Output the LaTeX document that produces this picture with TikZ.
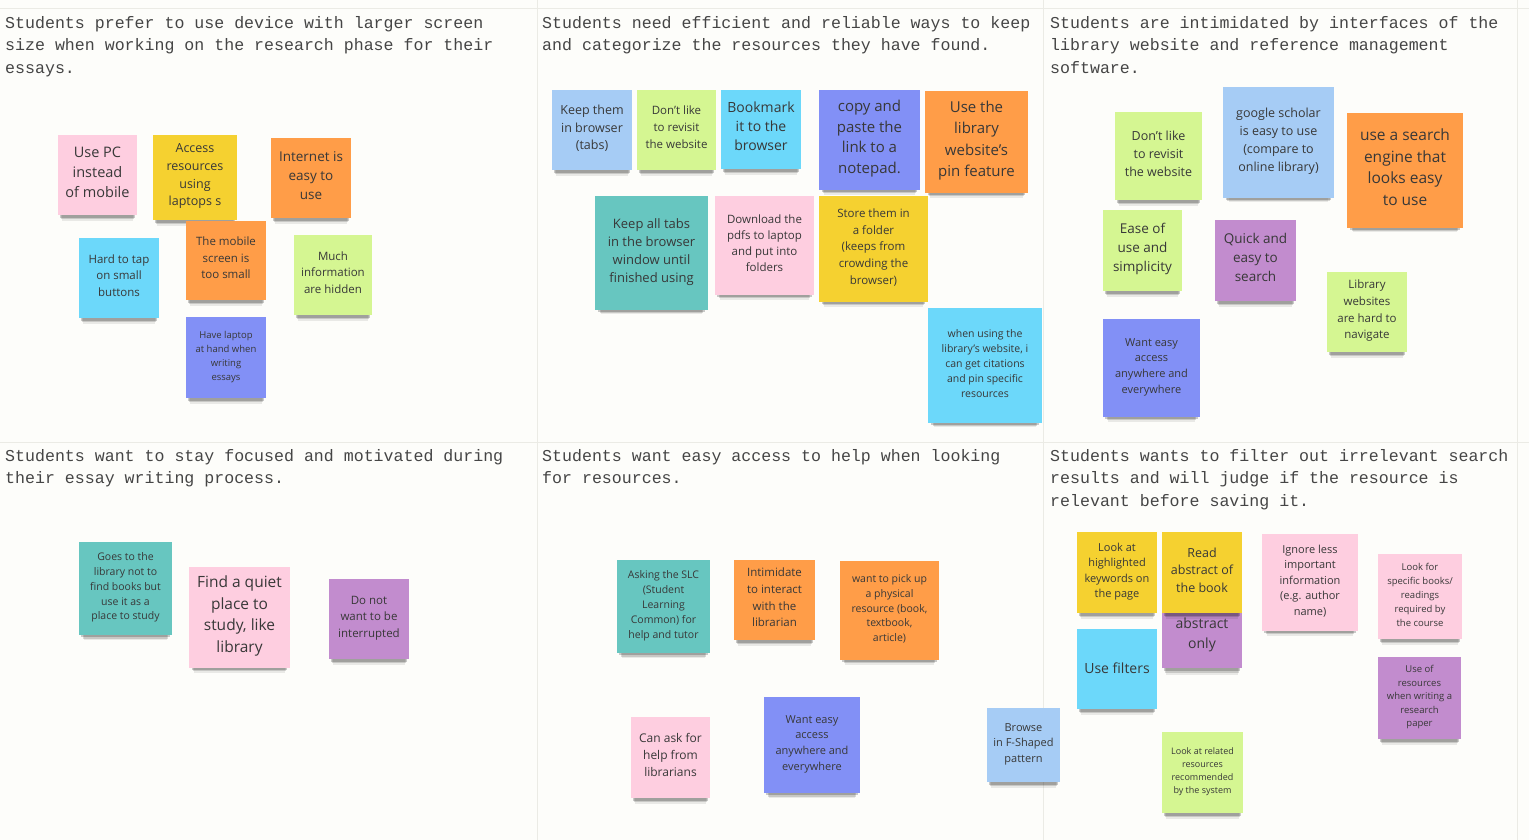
\documentclass[tikz,border=0pt]{standalone}
\usepackage{fontspec}
\setmainfont{Open Sans}
\newfontfamily\headfont{Liberation Mono}
\usetikzlibrary{positioning, shadows}

\definecolor{board}{HTML}{FDFDFA}
\definecolor{gridline}{HTML}{EBEBE5}
\definecolor{headtext}{HTML}{454545}
\definecolor{notetext}{HTML}{383838}
\definecolor{stickypink}{HTML}{FECEE0}
\definecolor{stickyyellow}{HTML}{F5D130}
\definecolor{stickyorange}{HTML}{FF9D48}
\definecolor{stickycyan}{HTML}{6CD8FA}
\definecolor{stickyblue}{HTML}{A6CCF5}
\definecolor{stickygreen}{HTML}{D5F692}
\definecolor{stickyviolet}{HTML}{8290F6}
\definecolor{stickyteal}{HTML}{67C6C0}
\definecolor{stickypurple}{HTML}{C28CCE}

\tikzset{
  note/.style={rectangle, fill=#1, minimum width=80pt, minimum height=80pt,
    inner sep=1pt, align=center, text=notetext, execute at end node=\strut,
    drop shadow={shadow xshift=0pt, shadow yshift=-11pt, shadow scale=0.9, opacity=0.08, fill=black},
    drop shadow={shadow xshift=0pt, shadow yshift=-8pt, shadow scale=0.92, opacity=0.14, fill=black},
    drop shadow={shadow xshift=0pt, shadow yshift=-5pt, shadow scale=0.95, opacity=0.2, fill=black}},
  wh/.style 2 args={minimum width=#1pt, minimum height=#2pt},
  fs/.style 2 args={font=\fontsize{#1}{#2}\selectfont},
  heading/.style={anchor=north west, inner sep=0pt, align=left, text=headtext,
    font=\headfont\fontsize{16.6}{22.5}\selectfont},
}

\begin{document}
\begin{tikzpicture}[x=1pt, y=-1pt]

    % board and grid
    \fill[board] (0,0) rectangle (1529,840);
    \useasboundingbox (0,0) rectangle (1529,840);
    \draw[gridline] (0,8) -- (1529,8);
    \draw[gridline] (0,442) -- (1529,442);
    \draw[gridline] (537,0) -- (537,840);
    \draw[gridline] (1043,0) -- (1043,840);
    \draw[gridline] (1517,0) -- (1517,840);

    % Panel 1: larger screens
    \node (head1) [heading] at (5,16) {Students prefer to use device with larger screen\\size when working on the research phase for their\\essays.};
    \node (usepc) [note=stickypink, wh={79}{80}, fs={14.5}{20}] at (97.5,175) {Use PC\\instead\\of mobile};
    \node (access) [note=stickyyellow, wh={84}{85}, fs={12.5}{17.7}] at (195,177.5) {Access\\resources\\using\\laptops s};
    \node (internet) [note=stickyorange, fs={13.5}{19}] at (311,178) {Internet is\\easy to\\use};
    \node (hardtap) [note=stickycyan, fs={11.5}{16.5}] at (119,278) {Hard to tap\\on small\\buttons};
    \node (mobile) [note=stickyorange, wh={80}{79}, fs={11.5}{16.5}] at (226,260.5) {The mobile\\screen is\\too small};
    \node (hidden) [note=stickygreen, wh={78}{80}, fs={11.5}{16.5}] at (333,275) {Much\\information\\are hidden};
    \node (laptop) [note=stickyviolet, wh={80}{81}, fs={9.5}{14}] at (226,357.5) {Have laptop\\at hand when\\writing\\essays};

    % Panel 2: keep and categorize
    \node (head2) [heading] at (542,16) {Students need efficient and reliable ways to keep\\and categorize the resources they have found.};
    \node (tabs) [note=stickyblue, fs={12.5}{17.5}] at (592,130) {Keep them\\in browser\\(tabs)};
    \node (revisit) [note=stickygreen, wh={79}{80}, fs={11.5}{17}] at (676.5,130) {Don't like\\to revisit\\the website};
    \node (bookmark) [note=stickycyan, wh={80}{79}, fs={14}{19}] at (761,129.5) {Bookmark\\it to the\\browser};
    \node (copy) [note=stickyviolet, wh={101}{100}, fs={15}{20.5}] at (869.5,140) {copy and\\paste the\\link to a\\notepad.};
    \node (pin) [note=stickyorange, wh={103}{102}, fs={15}{21.5}] at (976.5,142) {Use the\\library\\website's\\pin feature};
    \node (alltabs) [note=stickyteal, wh={113}{114}, fs={13}{18}] at (651.5,253) {Keep all tabs\\in the browser\\window until\\finished using};
    \node (download) [note=stickypink, wh={99}{99}, fs={11.5}{16}] at (764.5,245.5) {Download the\\pdfs to\ laptop\\and put into\\folders};
    \node (folder) [note=stickyyellow, wh={109}{106}, fs={11.5}{16.7}] at (873.5,249) {Store them in\\a folder\\(keeps from\\crowding the\\browser)};
    \node (citations) [note=stickycyan, wh={114}{115}, fs={10.5}{15}] at (985,365.5) {when using the\\library’s website, i\\can get citations\\and pin specific\\resources};

    % Panel 3: intimidating interfaces
    \node (head3) [heading] at (1050,16) {Students are intimidated by interfaces of the\\library website and reference management\\software.};
    \node (revisit2) [note=stickygreen, wh={87}{88}, fs={12.5}{18}] at (1158.5,156) {Don't like\\to revisit\\the website};
    \node (scholar) [note=stickyblue, wh={111}{111}, fs={12.5}{18}] at (1278.5,142.5) {google scholar\\is easy to use\\(compare to\\online library)};
    \node (engine) [note=stickyorange, wh={116}{115}, fs={15.5}{21.7}] at (1405,170.5) {use a search\\engine that\\looks easy\\to use};
    \node (ease) [note=stickygreen, wh={79}{81}, fs={13.5}{19}] at (1142.5,250.5) {Ease of\\use and\\simplicity};
    \node (quick) [note=stickypurple, wh={81}{81}, fs={13.5}{19}] at (1255.5,260.5) {Quick and\\easy to\\search};
    \node (navigate) [note=stickygreen, fs={11.5}{16.7}] at (1367,312) {Library\\websites\\are hard to\\navigate};
    \node (anywhere) [note=stickyviolet, wh={97}{98}, fs={11}{15.7}] at (1151.5,368) {Want easy\\access\\anywhere and\\everywhere};

    % Panel 4: focus and motivation
    \node (head4) [heading] at (5,449) {Students want to stay focused and motivated during\\their essay writing process.};
    \node (studyplace) [note=stickyteal, wh={93}{93}, fs={10.5}{14.8}] at (125.5,588.5) {Goes to the\\library not to\\find books but\\use it as a\\place to study};
    \node (quiet) [note=stickypink, wh={101}{101}, fs={15.5}{21.5}] at (239.5,617.5) {Find a quiet\\place to\\study, like\\library};
    \node (interrupt) [note=stickypurple, fs={11.5}{16.5}] at (369,619) {Do not\\want to be\\interrupted};

    % Panel 5: access to help
    \node (head5) [heading] at (542,449) {Students want easy access to help when looking\\for resources.};
    \node (slc) [note=stickyteal, wh={93}{93}, fs={10.5}{15}] at (663.5,606.5) {Asking the SLC\\(Student\\Learning\\Common) for\\help and tutor};
    \node (intimidate) [note=stickyorange, wh={81}{80}, fs={11.5}{16.7}] at (774.5,600) {Intimidate\\to interact\\with the\\librarian};
    \node (physical) [note=stickyorange, wh={99}{99}, fs={10.5}{14.7}] at (889.5,610.5) {want to pick up\\a physical\\resource (book,\\textbook,\\article)};
    \node (librarians) [note=stickypink, wh={79}{81}, fs={12}{17}] at (670.5,757.5) {Can ask for\\help from\\librarians};
    \node (anywhere2) [note=stickyviolet, wh={96}{96}, fs={11}{15.7}] at (812,745) {Want easy\\access\\anywhere and\\everywhere};
    \node (fshape) [note=stickyblue, wh={73}{74}, fs={11}{15.5}] at (1023.5,745) {Browse\\in F-Shaped\\pattern};

    % Panel 6: filter and judge
    \node (head6) [heading] at (1050,449) {Students wants to filter out irrelevant search\\results and will judge if the resource is\\relevant before saving it.};
    \node (keywords) [note=stickyyellow, wh={80}{81}, fs={11}{15.3}] at (1117,572.5) {Look at\\highlighted\\keywords on\\the page};
    \node (abstractonly) [note=stickypurple, wh={80}{64}, fs={14}{20}] at (1202,636) {abstract\\only};
    \node (readabstract) [note=stickyyellow, wh={80}{81}, fs={12.5}{17.5}] at (1202,572.5) {Read\\abstract of\\the book};
    \node (filters) [note=stickycyan, fs={14}{20}] at (1117,669) {Use filters};
    \node (ignore) [note=stickypink, wh={96}{97}, fs={11}{15.5}] at (1310,582.5) {Ignore less\\important\\information\\(e.g. author\\name)};
    \node (specific) [note=stickypink, wh={84}{85}, fs={9.5}{14}] at (1420,596.5) {Look for\\specific books/\\readings\\required by\\the course};
    \node (paper) [note=stickypurple, wh={83}{82}, fs={9.5}{13.5}] at (1419.5,698) {Use of\\resources\\when writing a\\research\\paper};
    \node (related) [note=stickygreen, wh={81}{81}, fs={9}{13}] at (1202.5,772.5) {Look at related\\resources\\recommended\\by the system};

\end{tikzpicture}
\end{document}
